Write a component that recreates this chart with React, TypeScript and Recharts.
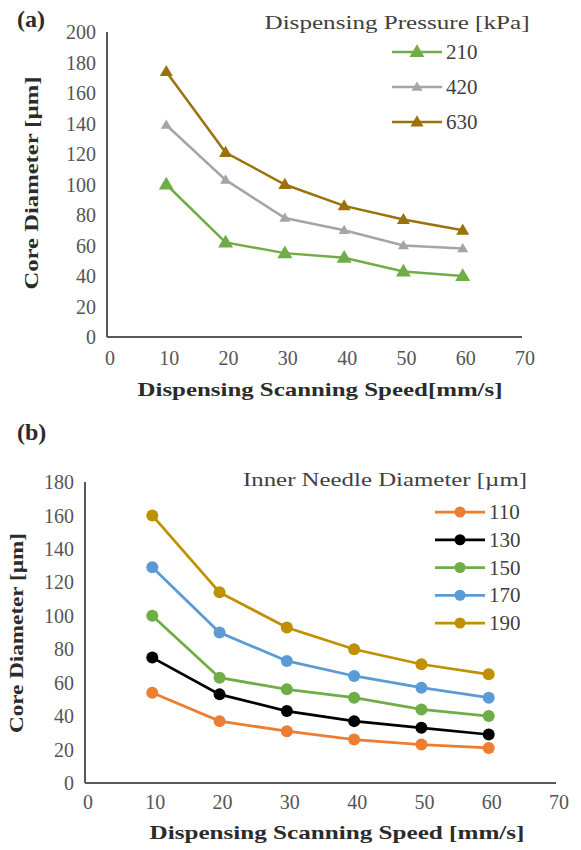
import React from 'react';
import { LineChart, Line, XAxis, YAxis, Legend } from 'recharts';

// ---------- Data ----------
const speeds = [10, 20, 30, 40, 50, 60];

const pressureNames = ['210', '420', '630'];
const core210 = [100, 62, 55, 52, 43, 40];
const core420 = [139, 103, 78, 70, 60, 58];
const core630 = [174, 121, 100, 86, 77, 70];

const needleNames = ['110', '130', '150', '170', '190'];
const core110 = [54, 37, 31, 26, 23, 21];
const core130 = [75, 53, 43, 37, 33, 29];
const core150 = [100, 63, 56, 51, 44, 40];
const core170 = [129, 90, 73, 64, 57, 51];
const core190 = [160, 114, 93, 80, 71, 65];

const xTicks = [0, 10, 20, 30, 40, 50, 60, 70];
const yTicksA = [0, 20, 40, 60, 80, 100, 120, 140, 160, 180, 200];
const yTicksB = [0, 20, 40, 60, 80, 100, 120, 140, 160, 180];

// ---------- Styling ----------
const pressureColors: Record<string, string> = { '210': '#70AD47', '420': '#A5A5A5', '630': '#99730A' };
const pressureTri: Record<string, number> = { '210': 15, '420': 11, '630': 13 };
const needleColors: Record<string, string> = {
  '110': '#ED7D31',
  '130': '#000000',
  '150': '#70AD47',
  '170': '#5B9BD5',
  '190': '#BF9000',
};

const SERIF = 'Liberation Serif, Times New Roman, serif';
const tickStyle = { fontFamily: SERIF, fontSize: 20, fill: '#555555' };
const titleColor = '#2b2b2b';

const dataA = speeds.map((s, i) => ({ speed: s, '210': core210[i], '420': core420[i], '630': core630[i] }));
const dataB = speeds.map((s, i) => ({
  speed: s,
  '110': core110[i],
  '130': core130[i],
  '150': core150[i],
  '170': core170[i],
  '190': core190[i],
}));

const triPath = (cx: number, cy: number, size: number) => {
  const h = size * 0.85;
  return `M${cx},${cy - h * 0.6} L${cx + size / 2},${cy + h * 0.4} L${cx - size / 2},${cy + h * 0.4} Z`;
};

const triangleDot = (color: string, size: number) => (props: any) => {
  const { cx, cy, index } = props;
  if (cx == null || cy == null) return <g key={`e-${index}`} />;
  return <path key={`t-${index}`} d={triPath(cx, cy, size)} fill={color} />;
};

// ---------- Legends ----------
const LegendA = (props: any) => {
  const payload = props.payload || [];
  return (
    <svg width={581} height={140} style={{ display: 'block' }}>
      <text x={397} y={29} textAnchor="middle" fontFamily={SERIF} fontSize={18} fill="#404040"
        textLength={265} lengthAdjust="spacingAndGlyphs">
        Dispensing Pressure [kPa]
      </text>
      {payload.map((e: any, i: number) => {
        const y = 52 + i * 35;
        const name = String(e.value);
        const c = pressureColors[name] || e.color;
        return (
          <g key={name}>
            <line x1={392} y1={y} x2={442} y2={y} stroke={c} strokeWidth={2.5} />
            <path d={triPath(417, y, pressureTri[name] || 12)} fill={c} />
            <text x={446} y={y + 7} fontFamily={SERIF} fontSize={21} fill="#404040">{name}</text>
          </g>
        );
      })}
    </svg>
  );
};

const LegendB = (props: any) => {
  const payload = props.payload || [];
  return (
    <svg width={581} height={240} style={{ display: 'block' }}>
      <text x={385} y={86} textAnchor="middle" fontFamily={SERIF} fontSize={18} fill="#404040"
        textLength={284} lengthAdjust="spacingAndGlyphs">
        Inner Needle Diameter  [{'\u00B5'}m]
      </text>
      {payload.map((e: any, i: number) => {
        const y = 112 + i * 27.75;
        const name = String(e.value);
        const c = needleColors[name] || e.color;
        return (
          <g key={name}>
            <line x1={435} y1={y} x2={485} y2={y} stroke={c} strokeWidth={2.75} />
            <circle cx={460} cy={y} r={5.5} fill={c} />
            <text x={489} y={y + 7} fontFamily={SERIF} fontSize={21} fill="#404040">{name}</text>
          </g>
        );
      })}
    </svg>
  );
};

// ---------- Axis titles ----------
const yTitleA = () => (
  <g>
    <text x={17} y={27} fontFamily={SERIF} fontSize={24} fontWeight="bold" fill={titleColor}>(a)</text>
    <text transform="translate(38,183) rotate(-90)" textAnchor="middle" fontFamily={SERIF} fontSize={19}
      fontWeight="bold" fill={titleColor} textLength={213} lengthAdjust="spacingAndGlyphs">
      Core Diameter  [{'\u00B5'}m]
    </text>
  </g>
);
const xTitleA = () => (
  <text x={320} y={396} textAnchor="middle" fontFamily={SERIF} fontSize={19} fontWeight="bold" fill={titleColor}
    textLength={365} lengthAdjust="spacingAndGlyphs">
    Dispensing Scanning Speed[mm/s]
  </text>
);
const yTitleB = () => (
  <g>
    <text x={17} y={40} fontFamily={SERIF} fontSize={24} fontWeight="bold" fill={titleColor}>(b)</text>
    <text transform="translate(23,233) rotate(-90)" textAnchor="middle" fontFamily={SERIF} fontSize={19}
      fontWeight="bold" fill={titleColor} textLength={200} lengthAdjust="spacingAndGlyphs">
      Core Diameter  [{'\u00B5'}m]
    </text>
  </g>
);
const xTitleB = () => (
  <text x={337} y={439} textAnchor="middle" fontFamily={SERIF} fontSize={19} fontWeight="bold" fill={titleColor}
    textLength={375} lengthAdjust="spacingAndGlyphs">
    Dispensing Scanning Speed  [mm/s]
  </text>
);

export default function App() {
  return (
    <div style={{ position: 'absolute', left: 0, top: 0, width: 581, height: 850, background: '#fff' }}>
      <div style={{ position: 'absolute', left: 0, top: 0 }}>
        <LineChart width={581} height={400} data={dataA} margin={{ top: 32, right: 59, bottom: 23, left: 0 }}>
          <XAxis dataKey="speed" type="number" domain={[0, 70]} ticks={xTicks} height={40}
            tickLine={false} axisLine={{ stroke: '#595959', strokeWidth: 2 }} tickMargin={8}
            tick={{ ...tickStyle, dx: 3 }} interval={0} label={xTitleA} />
          <YAxis type="number" domain={[0, 200]} ticks={yTicksA} width={107} interval={0}
            tickLine={false} axisLine={{ stroke: '#595959', strokeWidth: 2 }} tickMargin={5}
            tick={tickStyle} label={yTitleA} />
          <Legend layout="vertical" align="center" verticalAlign="middle" content={LegendA}
            wrapperStyle={{ position: 'absolute', left: 0, top: 0, width: 581, height: 140 }} />
          {pressureNames.map((n) => (
            <Line key={n} dataKey={n} name={n} stroke={pressureColors[n]} strokeWidth={2.5}
              dot={triangleDot(pressureColors[n], pressureTri[n])} activeDot={false}
              isAnimationActive={false} />
          ))}
        </LineChart>
      </div>
      <div style={{ position: 'absolute', left: 0, top: 400 }}>
        <LineChart width={581} height={450} data={dataB} margin={{ top: 82, right: 25, bottom: 27, left: 0 }}>
          <XAxis dataKey="speed" type="number" domain={[0, 70]} ticks={xTicks} height={40}
            tickLine={false} axisLine={{ stroke: '#595959', strokeWidth: 2 }} tickMargin={6}
            tick={{ ...tickStyle, dx: 3 }} interval={0} label={xTitleB} />
          <YAxis type="number" domain={[0, 180]} ticks={yTicksB} width={85} interval={0}
            tickLine={false} axisLine={{ stroke: '#595959', strokeWidth: 2 }} tickMargin={5}
            tick={tickStyle} label={yTitleB} />
          <Legend layout="vertical" align="center" verticalAlign="middle" content={LegendB}
            wrapperStyle={{ position: 'absolute', left: 0, top: 0, width: 581, height: 240 }} />
          {needleNames.map((n) => (
            <Line key={n} dataKey={n} name={n} stroke={needleColors[n]} strokeWidth={2.75}
              dot={{ r: 6, fill: needleColors[n], stroke: needleColors[n], strokeWidth: 0 }}
              activeDot={false} isAnimationActive={false} />
          ))}
        </LineChart>
      </div>
    </div>
  );
}
